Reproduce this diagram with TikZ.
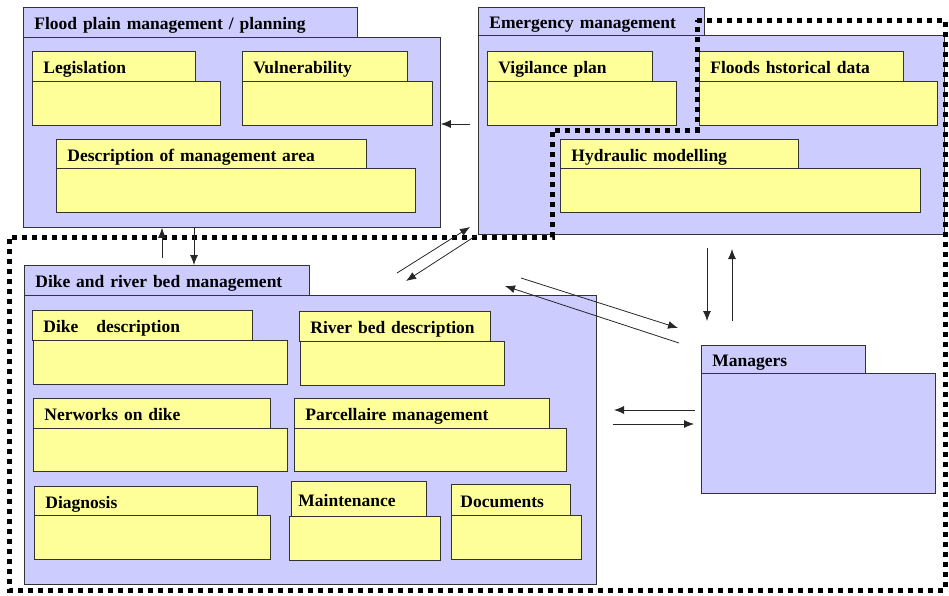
\documentclass[tikz,border=0pt]{standalone}
\usepackage{fontspec}
\setmainfont{Liberation Serif}
\usepackage{tikz}
\usetikzlibrary{positioning}
\usetikzlibrary{calc}
\usetikzlibrary{arrows.meta}

\definecolor{pkgblue}{HTML}{CCCCFF}
\definecolor{pkgyellow}{HTML}{FFFF99}

\begin{document}
\begin{tikzpicture}[
    x=1pt, y=-1pt,              % one unit is one pixel, y going down
    ]
% -------------------------------------------------
\tikzset{
  base/.style={draw=black!80, line width=0.8pt, anchor=north west, inner sep=0pt},
  tab/.style={base, inner xsep=11pt, minimum height=30pt, text height=15pt, text depth=0pt,
              align=left, font=\bfseries\fontsize{17.5}{20}\selectfont},
  ptab/.style={tab, fill=pkgblue},
  ctab/.style={tab, fill=pkgyellow},
  box/.style n args={2}{base, minimum width=#1, minimum height=#2},
  pbody/.style n args={2}{box={#1}{#2}, fill=pkgblue},
  cbody/.style n args={2}{box={#1}{#2}, fill=pkgyellow},
  fence/.style={line width=5pt, dash pattern=on 5pt off 5pt},
  line/.style={draw=black!85, line width=0.8pt, -{Latex[length=10pt,width=8pt]}}
}
\useasboundingbox (0,0) rectangle (949,595);
% -------------------------------------------------
% Flood plain management / planning
\node [pbody={417}{190}] (fld) at (23,37) {};
\node [ptab, text width=312pt] (fldt) at (23,7) {Flood plain management / planning};
\node [cbody={188}{44}] (leg) at (32,81) {};
\node [ctab, text width=141pt] (legt) at (32,51) {Legislation};
\node [cbody={190}{44}] (vul) at (242,81) {};
\node [ctab, text width=143pt] (vult) at (242,51) {Vulnerability};
\node [cbody={359}{44}] (dsc) at (56,168) {};
\node [ctab, text width=288pt, minimum height=29pt] (dsct) at (56,139) {Description of management area};

% Emergency management
\node [pbody={466}{199}] (emg) at (478,35) {};
\node [ptab, text width=204pt, minimum height=28pt] (emgt) at (478,7) {Emergency management};
\node [cbody={189}{44}] (vig) at (487,81) {};
\node [ctab, text width=143pt] (vigt) at (487,51) {Vigilance plan};
\node [cbody={238}{44}] (hst) at (699,81) {};
\node [ctab, text width=182pt] (hstt) at (699,51) {Floods hstorical data};
\node [cbody={360}{44}] (hyd) at (560,168) {};
\node [ctab, text width=216pt, minimum height=29pt] (hydt) at (560,139) {Hydraulic modelling};

% Dike and river bed management
\node [pbody={572}{289}] (dke) at (24,295) {};
\node [ptab, text width=263pt] (dket) at (24,265) {Dike and river bed management};
\node [cbody={254}{44}] (dkd) at (33,340) {};
\node [ctab, text width=198pt] (dkdt) at (32,310) {Dike\hspace*{18pt}description};
\node [cbody={204}{44}] (rbd) at (300,341) {};
\node [ctab, text width=169pt] (rbdt) at (299,311) {River bed description};
\node [cbody={254}{43}] (net) at (33,428) {};
\node [ctab, text width=215pt] (nett) at (33,398) {Nerworks on dike};
\node [cbody={272}{43}] (par) at (294,428) {};
\node [ctab, text width=233pt] (part) at (294,398) {Parcellaire management};
\node [cbody={236}{44}] (dia) at (34,515) {};
\node [ctab, text width=201pt, minimum height=29pt] (diat) at (34,486) {Diagnosis};
\node [cbody={151}{44}] (mnt) at (289,516) {};
\node [ctab, text width=121pt, minimum height=35pt, inner xsep=7pt] (mntt) at (291,481) {Maintenance};
\node [cbody={130}{44}] (doc) at (451,515) {};
\node [ctab, text width=101pt, minimum height=31pt, inner xsep=9pt] (doct) at (451,484) {Documents};

% Managers
\node [pbody={234}{120}] (mgr) at (701,373) {};
\node [ptab, text width=142pt, minimum height=28pt] (mgrt) at (701,345) {Managers};

% -------------------------------------------------
% Dotted boundary
\draw [fence] (697,20) -- (945,20) -- (945,590) -- (9,590) -- (9,237)
      -- (552,237) -- (552,130) -- (697,130) -- cycle;

% -------------------------------------------------
% Arrows
\coordinate (ef) at (470,124);
\coordinate (fd1) at (162,258);
\coordinate (fd2) at (194,240);
\coordinate (de1) at (397,273);
\coordinate (de2) at (470,227);
\coordinate (ed1) at (477,235);
\coordinate (ed2) at (406,281);
\coordinate (dm1) at (521,278);
\coordinate (dm2) at (678,328);
\coordinate (md1) at (679,343);
\coordinate (md2) at (505,286);
\coordinate (em1) at (707,248);
\coordinate (em2) at (707,321);
\coordinate (me1) at (732,321);
\coordinate (me2) at (732,249);
\coordinate (ml1) at (695,410);
\coordinate (ml2) at (614,410);
\coordinate (mr1) at (613,424);
\coordinate (mr2) at (694,424);

\path [line] (ef) -- (ef -| fld.east);
\path [line] (fd1) -- (fd1 |- fld.south);
\path [line] (fd2 |- fld.south) -- (fd2 |- dket.north);
\path [line] (de1) -- (de2);
\path [line] (ed1) -- (ed2);
\path [line] (dm1) -- (dm2);
\path [line] (md1) -- (md2);
\path [line] (em1) -- (em2);
\path [line] (me1) -- (me2);
\path [line] (ml1) -- (ml2);
\path [line] (mr1) -- (mr2);

\end{tikzpicture}
\end{document}
